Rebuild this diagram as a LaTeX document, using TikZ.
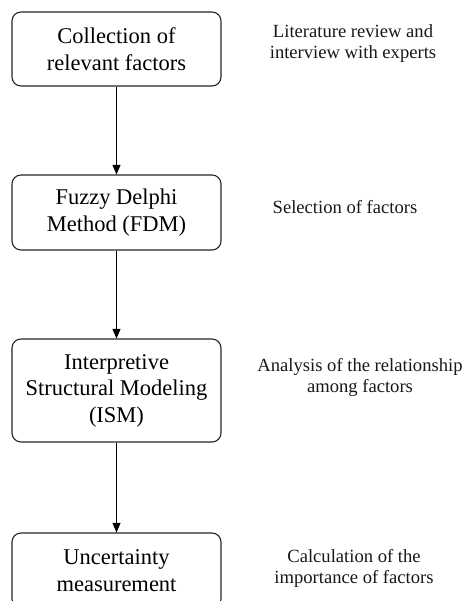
\documentclass[tikz,border=0pt]{standalone}
\usepackage{fontspec}
\setmainfont{Liberation Serif}
\usetikzlibrary{arrows.meta}
\begin{document}
\begin{tikzpicture}[x=1pt,y=-1pt,
  stepbox/.style={draw=black!85, line width=1.1pt, rounded corners=9pt,
    minimum width=209pt, align=center, inner sep=0pt,
    font=\fontsize{22.5}{26.5}\selectfont},
  note/.style={align=center, inner sep=0pt, font=\fontsize{18.6}{21}\selectfont, text=black!90},
  flow/.style={line width=0.9pt, -{Triangle[length=9.5pt,width=8pt]}}]
\useasboundingbox (0,0) rectangle (471,601);
\clip (0,0) rectangle (471,601);
\fill[white] (0,0) rectangle (471,601);
\node[stepbox, minimum height=74pt] (b1) at (116.5,49) {Collection of\\relevant factors};
\node[stepbox, minimum height=75pt] (b2) at (116.5,212.5) {Fuzzy Delphi\\Method (FDM)};
\node[stepbox, minimum height=103pt] (b3) at (116.5,390.5) {Interpretive\\Structural Modeling\\(ISM)};
\node[stepbox, minimum height=75pt] (b4) at (116.5,570.5) {Uncertainty\\measurement};
\draw[flow] (b1) -- (b2);
\draw[flow] (b2) -- (b3);
\draw[flow] (b3) -- (b4);
\node[note] (n1) at (353,44) {Literature review and\\interview with experts};
\node[note] (n2) at (345,207) {Selection of factors};
\node[note] (n3) at (360,377) {Analysis of the relationship\\among factors};
\node[note] (n4) at (354,568) {Calculation of the\\importance of factors};
\end{tikzpicture}
\end{document}
